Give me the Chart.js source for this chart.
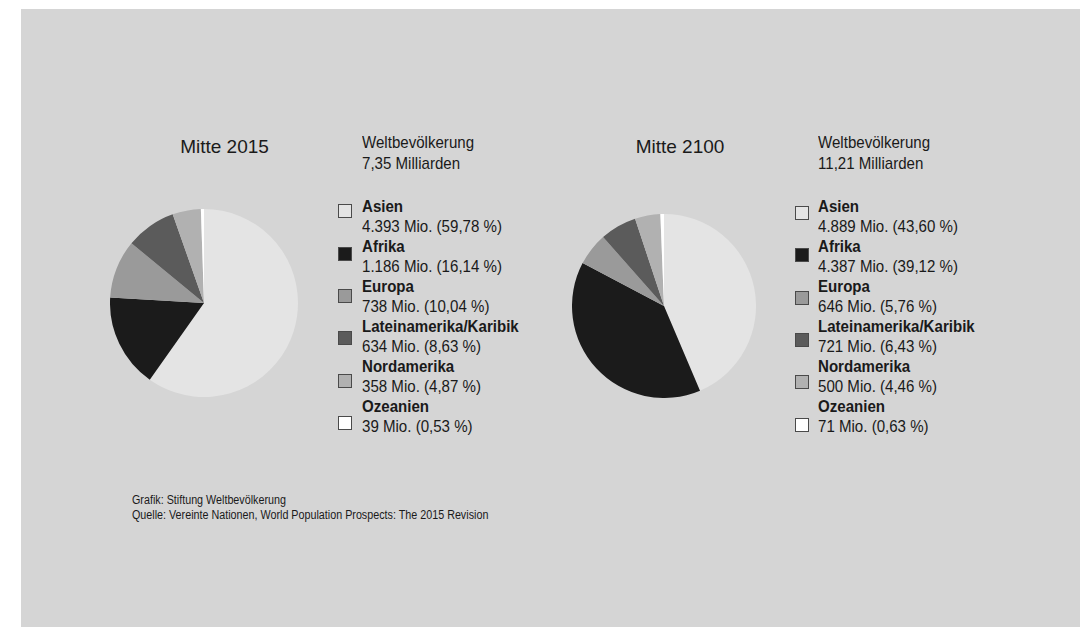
<!DOCTYPE html>
<html>
<head>
<meta charset="utf-8">
<script src="https://cdn.jsdelivr.net/npm/chart.js@4.4.1/dist/chart.umd.min.js"></script>
<style>
  html, body { margin: 0; padding: 0; background: #ffffff; width: 1080px; height: 627px; overflow: hidden; }
  #panel { position: absolute; left: 21px; top: 9px; right: 0; bottom: 0; background: #d5d5d5; }
  .abs { position: absolute; white-space: nowrap; color: #1a1a1a; font-family: "Liberation Sans", Arial, sans-serif; transform-origin: 0 0; }
  .title { font-size: 19px; line-height: 19px; text-align: center; width: 200px; }
  .head { font-size: 17px; line-height: 20.5px; transform: scaleX(0.887); }
  .legend { font-size: 17px; line-height: 20px; transform: scaleX(0.887); }
  .legend b { font-weight: bold; }
  .box { position: absolute; width: 12px; height: 12px; border: 1px solid #4a4a4a; }
  .foot { font-size: 12.5px; line-height: 15px; transform: scaleX(0.86); }
  canvas { position: absolute; }
</style>
</head>
<body>
<div id="panel"></div>
<canvas id="pie1" width="188" height="188" style="left:109.5px; top:209.3px; width:188px; height:188px;"></canvas>
<canvas id="pie2" width="184" height="184" style="left:571.7px; top:214.3px; width:184px; height:184px;"></canvas>
<div id="texts"></div>
<script>
// ---- data ----
const regions = ['Asien', 'Afrika', 'Europa', 'Lateinamerika/Karibik', 'Nordamerika', 'Ozeanien'];
const values2015 = [4393, 1186, 738, 634, 358, 39];
const percent2015 = ['59,78', '16,14', '10,04', '8,63', '4,87', '0,53'];
const values2100 = [4889, 4387, 646, 721, 500, 71];
const percent2100 = ['43,60', '39,12', '5,76', '6,43', '4,46', '0,63'];
const titles = ['Mitte 2015', 'Mitte 2100'];
const totals = ['7,35', '11,21'];
const sliceColors = ['#e4e4e4', '#1b1b1b', '#9a9a9a', '#5b5b5b', '#b1b1b1', '#ffffff'];
const footLines = ['Grafik: Stiftung Weltbevölkerung', 'Quelle: Vereinte Nationen, World Population Prospects: The 2015 Revision'];

function fmt(n) {
  return String(n).replace(/\B(?=(\d{3})+(?!\d))/g, '.');
}

function makePie(id, values) {
  new Chart(document.getElementById(id), {
    type: 'pie',
    data: {
      labels: regions,
      datasets: [{
        data: values,
        backgroundColor: sliceColors,
        borderWidth: 0,
        hoverOffset: 0,
        offset: 0
      }]
    },
    options: {
      responsive: false,
      maintainAspectRatio: false,
      animation: false,
      events: [],
      layout: { padding: 0 },
      plugins: { legend: { display: false }, tooltip: { enabled: false }, title: { display: false } }
    }
  });
}
makePie('pie1', values2015);
makePie('pie2', values2100);

// ---- text layout ----
const host = document.getElementById('texts');
function add(html, cls, left, top) {
  const d = document.createElement('div');
  d.className = 'abs ' + cls;
  d.style.left = left + 'px';
  d.style.top = top + 'px';
  d.innerHTML = html;
  host.appendChild(d);
  return d;
}

const blocks = [
  { titleCx: 224.5, textX: 361.7, boxX: 338.3, boxTop: 204.3, boxStep: 42.3, values: values2015, pct: percent2015 },
  { titleCx: 680, textX: 818.3, boxX: 795, boxTop: 206, boxStep: 42.3, values: values2100, pct: percent2100 }
];

blocks.forEach((b, k) => {
  add(titles[k], 'title', b.titleCx - 100, 136.6);
  add('Weltbevölkerung<br>' + totals[k] + ' Milliarden', 'head', b.textX, 133.0);
  let html = '';
  regions.forEach((r, i) => {
    html += '<b>' + r + '</b><br>' + fmt(b.values[i]) + ' Mio. (' + b.pct[i] + ' %)<br>';
  });
  add(html, 'legend', b.textX, 197.4);
  regions.forEach((r, i) => {
    const bx = document.createElement('div');
    bx.className = 'box';
    bx.style.left = b.boxX + 'px';
    bx.style.top = (b.boxTop + i * b.boxStep) + 'px';
    bx.style.background = sliceColors[i];
    host.appendChild(bx);
  });
});

add(footLines.join('<br>'), 'foot', 131.7, 493.2);
</script>
</body>
</html>
